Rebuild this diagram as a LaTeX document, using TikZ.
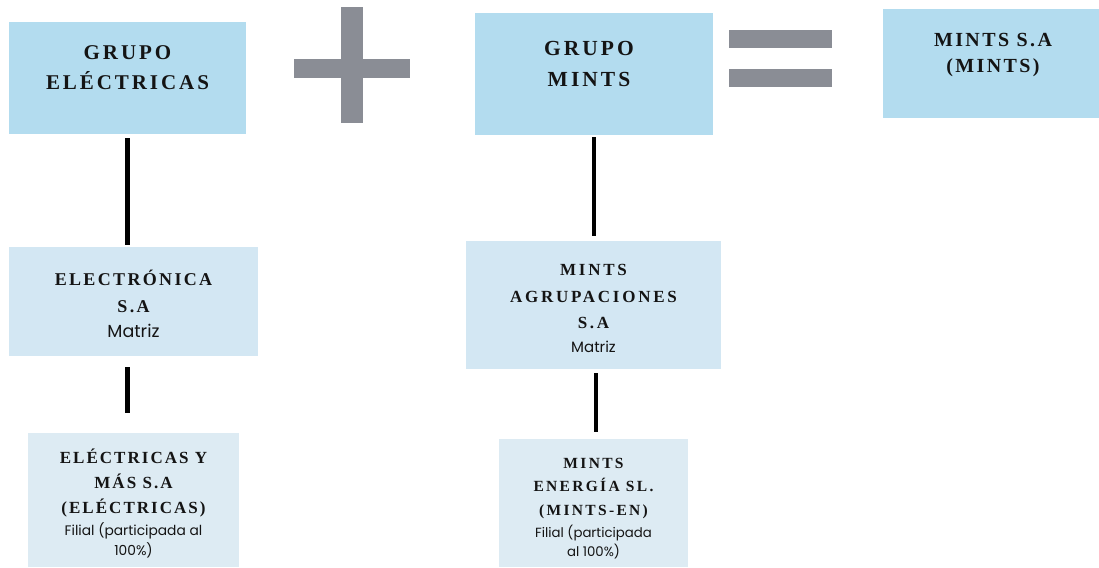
\documentclass[tikz,border=0pt]{standalone}
\usepackage{fontspec}
\setmainfont{Liberation Serif}
\newfontfamily\ttlA[LetterSpace=14]{Liberation Serif}
\newfontfamily\ttlB[LetterSpace=13]{Liberation Serif}
\newfontfamily\ttlC[LetterSpace=16]{Liberation Serif}
\newfontfamily\ttlD[LetterSpace=12]{Liberation Serif}
\newfontfamily\ttlE[LetterSpace=15]{Liberation Serif}
\newfontfamily\subfont{Poppins}
\definecolor{topblue}{HTML}{B3DCEF}
\definecolor{midblue}{HTML}{D3E7F3}
\definecolor{lowblue}{HTML}{DDEBF3}
\definecolor{opgray}{HTML}{8A8D95}
\definecolor{ink}{HTML}{141414}
\begin{document}
\begin{tikzpicture}[x=1pt,y=-1pt,
  box/.style={inner sep=0pt, outer sep=0pt, draw=none},
  ttl/.style={inner sep=0pt, align=center, text=ink},
  sub/.style={inner sep=0pt, align=center, text=ink},
  conn/.style={draw=black, line width=4.6pt}]
\useasboundingbox[fill=white] (0,0) rectangle (1099,567);
% boxes
\node[box, fill=topblue, minimum width=237pt, minimum height=112pt] (b1) at (127.5,78) {};
\node[box, fill=topblue, minimum width=238pt, minimum height=122pt] (b2) at (594,74) {};
\node[box, fill=topblue, minimum width=216pt, minimum height=109pt] (b3) at (991,63.5) {};
\node[box, fill=midblue, minimum width=249pt, minimum height=109pt] (m1) at (133.5,301.5) {};
\node[box, fill=midblue, minimum width=255pt, minimum height=128pt] (m2) at (593.5,305) {};
\node[box, fill=lowblue, minimum width=211pt, minimum height=134pt] (s1) at (133.5,500) {};
\node[box, fill=lowblue, minimum width=189pt, minimum height=128pt] (s2) at (593.5,503) {};
% operators
\fill[opgray] (341,7) rectangle (363,123);
\fill[opgray] (294,59) rectangle (410,78);
\fill[opgray] (729,30) rectangle (832,48);
\fill[opgray] (729,69) rectangle (832,87);
% texts
\node[ttl, font=\ttlA\bfseries\fontsize{21}{30}\selectfont] (t1) at (127.5,68) {GRUPO\\ELÉCTRICAS};
\node[ttl, font=\ttlA\bfseries\fontsize{21.5}{31}\selectfont] (t2) at (589,63.5) {GRUPO\\MINTS};
\node[ttl, font=\ttlD\bfseries\fontsize{20}{26}\selectfont] (t3) at (993,55) {MINTS S.A\\(MINTS)};
\node[ttl, font=\ttlB\bfseries\fontsize{18}{27}\selectfont] (t4) at (133.5,291.5) {ELECTRÓNICA\\S.A};
\node[sub, font=\subfont\fontsize{17.5}{20}\selectfont] (u4) at (133.5,331) {Matriz};
\node[ttl, font=\ttlC\bfseries\fontsize{17}{26.5}\selectfont] (t5) at (593.5,296.5) {MINTS\\AGRUPACIONES\\S.A};
\node[sub, font=\subfont\fontsize{15}{18}\selectfont] (u5) at (593.5,347) {Matriz};
\node[ttl, font=\ttlD\bfseries\fontsize{17}{25}\selectfont] (t6) at (133.5,483) {ELÉCTRICAS Y\\MÁS S.A\\(ELÉCTRICAS)};
\node[sub, font=\subfont\fontsize{13.8}{20}\selectfont] (u6) at (133.5,540) {Filial (participada al\\100\%)};
\node[ttl, font=\ttlE\bfseries\fontsize{15.5}{23.5}\selectfont] (t7) at (593.5,488.5) {MINTS\\ENERGÍA SL.\\(MINTS-EN)};
\node[sub, font=\subfont\fontsize{13.3}{19}\selectfont] (u7) at (593.5,542.5) {Filial (participada\\al 100\%)};
% connectors
\draw[conn] ([yshift=-4pt]b1.south) -- ([yshift=2pt]b1.south |- m1.north);
\draw[conn] ([yshift=-11pt]b1.south |- m1.south) -- ([yshift=20pt]b1.south |- s1.north);
\draw[conn] ([yshift=-2pt]b2.south) -- ([yshift=5pt]b2.south |- m2.north);
\draw[conn] ([xshift=2.5pt,yshift=-4pt]m2.south) -- ([xshift=2.5pt,yshift=7pt]s2.north);
\end{tikzpicture}
\end{document}
